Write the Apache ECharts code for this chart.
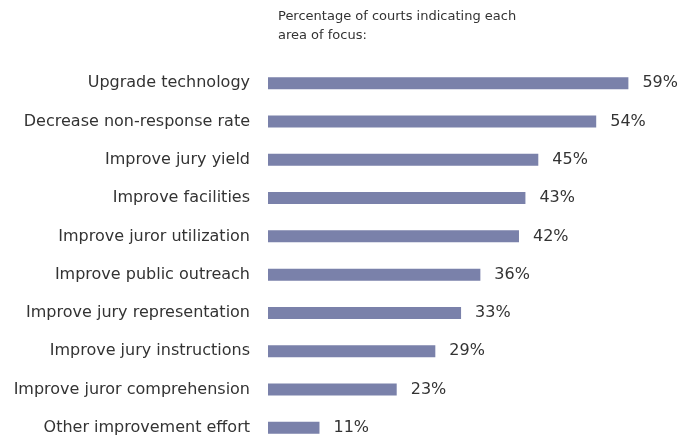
<!DOCTYPE html>
<html>
<head>
	<meta http-equiv="Content-Type" content="text/html;charset=utf-8">
	<title>Jury improvement areas</title>
	<script src="https://cdn.jsdelivr.net/npm/echarts@6/dist/echarts.min.js"></script>
	<style>
	  html, body{
		margin: 0;
		padding: 0;
		background: #fff;
	  }
	  #chart{
		width: 693px;
		height: 440px;
	  }
	</style>
</head>
<body>
<div id="chart"></div>
<script>
	var categories = [
		'Upgrade technology',
		'Decrease non-response rate',
		'Improve jury yield',
		'Improve facilities',
		'Improve juror utilization',
		'Improve public outreach',
		'Improve jury representation',
		'Improve jury instructions',
		'Improve juror comprehension',
		'Other improvement effort'
	];

	var percentages = [59, 54, 45, 43, 42, 36, 33, 29, 23, 11];

	var title = 'Percentage of courts indicating each\narea of focus:';

	var option = {
		animation: false,
		title: {
			text: title,
			left: 273,
			top: 2,
			textStyle: {
				fontFamily: 'DejaVu Sans',
				fontSize: 13,
				fontWeight: 'normal',
				lineHeight: 19,
				color: '#333'
			}
		},
		grid: {
			left: 268,
			top: 64,
			width: 399,
			height: 383,
			outerBoundsMode: 'none'   // 让网格可以超出画布底部
		},
		xAxis: {
			type: 'value',
			min: 3,
			max: 65,
			show: false
		},
		yAxis: {
			type: 'category',
			data: categories,
			inverse: true,
			axisLine: { show: false },
			axisTick: { show: false },
			axisLabel: {
				margin: 18,
				fontFamily: 'DejaVu Sans',
				fontSize: 16,
				color: '#333'
			}
		},
		series: [
			{
				type: 'bar',
				data: percentages,
				barWidth: 12,
				itemStyle: { color: '#7a81aa' },
				label: {
					show: true,
					position: 'right',
					distance: 14,
					formatter: '{c}%',
					fontFamily: 'DejaVu Sans',
					fontSize: 16,
					color: '#333'
				}
			}
		]
	};

	// 初始化图表
	var myChart = echarts.init(document.getElementById('chart'));
	myChart.setOption(option);
</script>
</body>
</html>
